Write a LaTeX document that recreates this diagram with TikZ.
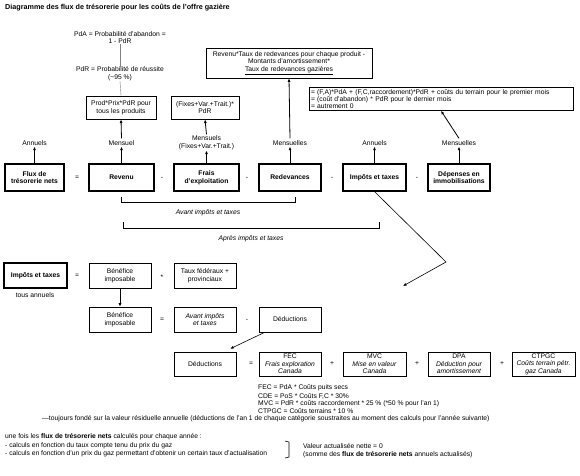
\documentclass[tikz,border=0pt]{standalone}
\usepackage{fontspec}
\setmainfont{Liberation Sans}
\usetikzlibrary{arrows.meta}
\begin{document}
\begin{tikzpicture}[x=1pt,y=-1pt,
  every node/.style={font=\fontsize{6.75}{7.6}\selectfont, inner sep=0pt, align=center},
  bbox/.style={draw, line width=1.1pt, minimum height=27, minimum width=#1, font=\fontsize{6.75}{7.8}\selectfont\bfseries},
  tbox/.style={draw, line width=0.6pt, minimum height=25, minimum width=#1},
  sbox/.style={draw, line width=0.6pt, minimum height=24, minimum width=#1},
  arr/.style={-{Latex[length=3.5pt,width=3pt]}, line width=0.8pt},
  thin/.style={line width=0.4pt, gray},
  op/.style={font=\fontsize{6.75}{7.6}\selectfont},
  txt/.style={anchor=west, align=left}
]
\useasboundingbox (0,0) rectangle (580,475);

% title
\node[txt, font=\fontsize{7.2}{8.5}\selectfont\bfseries] (title) at (5,8) {Diagramme des flux de trésorerie pour les coûts de l'offre gazière};

% probabilities
\node (pda) at (120,37.5) {PdA = Probabilité d'abandon =\\1 - PdR};
\node (pdr) at (120,74) {PdR = Probabilité de réussite\\(\textasciitilde95 \%)};

% upper formula boxes
\node[draw, line width=0.9pt, minimum width=70, minimum height=23] (prod) at (121,107.5) {Prod*Prix*PdR pour\\tous les produits};
\node[draw, line width=0.9pt, minimum width=68, minimum height=23] (fraisf) at (205,107.5) {(Fixes+Var.+Trait.)*\\PdR};
\node[draw, line width=0.6pt, minimum width=166, minimum height=30] (redf) at (289,63) {Revenu*Taux de redevances pour chaque produit -\\Montants d'amortissement*\\\underline{Taux de redevances gazières}};
\node[draw, line width=0.6pt, text width=260, inner sep=2pt, align=left, font=\fontsize{6.75}{7}\selectfont] (depf) at (441,99) {= (F,A)*PdA + (F,C,raccordement)*PdR + coûts du terrain pour le premier mois\\= (coût d'abandon) * PdR pour le dernier mois\\= autrement 0};

\draw[thin] (pda.south) -- (pdr.north);
\draw[thin] (pdr.south) -- (prod.north);

% first row
\node[bbox=59] (flux) at (34.5,177.5) {Flux de\\trésorerie nets};
\node[op] (o1) at (77,178) {=};
\node[bbox=65] (rev) at (121.5,177.5) {Revenu};
\node[op] (o2) at (162,178) {-};
\node[bbox=65] (frais) at (206.5,177.5) {Frais\\d'exploitation};
\node[op] (o3) at (247,178) {-};
\node[bbox=62] (red) at (290,177.5) {Redevances};
\node[op] (o4) at (332,178) {-};
\node[bbox=63] (imp) at (374.5,177.5) {Impôts et taxes};
\node[op] (o5) at (417,178) {-};
\node[bbox=62] (dep) at (459,177.5) {Dépenses en\\immobilisations};

% labels above
\node (l1) at (34.5,143) {Annuels};
\node (l2) at (121.5,143) {Mensuel};
\node (l3) at (206.5,142.5) {Mensuels\\(Fixes+Var.+Trait.)};
\node (l4) at (290,143) {Mensuelles};
\node (l5) at (374.5,143) {Annuels};
\node (l6) at (459,143) {Mensuelles};

\draw[arr] (flux.north) -- ([yshift=-1pt]l1.south);
\draw[arr] (rev.north) -- ([yshift=-1pt]l2.south);
\draw[arr] (frais.north) -- ([yshift=-1pt]l3.south);
\draw[arr] (red.north) -- ([yshift=-1pt]l4.south);
\draw[arr] (imp.north) -- ([yshift=-1pt]l5.south);
\draw[arr] (dep.north) -- ([yshift=-1pt]l6.south);

\draw[arr] ([yshift=2pt]l2.north) -- (prod.south);
\draw[arr] ([yshift=1pt]l3.north) -- (fraisf.south);
\draw[arr] ([yshift=2pt]l4.north) -- (redf.south);
\draw[arr] ([yshift=2pt]l6.north) -- (depf.south);

% brackets
\draw[line width=0.8pt] (121,197) -- (121,202) -- (295,202) -- (295,197);
\node[font=\fontsize{6.75}{7.6}\selectfont\itshape] (avant) at (208,213) {Avant impôts et taxes};
\draw[line width=0.8pt] (123,222) -- (123,228) -- (379,228) -- (379,222);
\node[font=\fontsize{6.75}{7.6}\selectfont\itshape] (apres) at (251,239) {Après impôts et taxes};

% diagonal connector
\coordinate (bend) at (446,262);
\coordinate (tgt) at (403,286);
\draw[arr, line width=0.6pt] (imp.south) -- (bend) -- (tgt);

% second section
\node[bbox=63, minimum height=25] (imp2) at (35.5,275.5) {Impôts et taxes};
\node (tous) at (35,295) {tous annuels};
\node[op] (p1) at (77,276) {=};
\node[tbox=62] (ben1) at (120,276) {Bénéfice\\imposable};
\node[op] (p2) at (162,277) {*};
\node[tbox=62] (taux) at (205,276) {Taux fédéraux +\\provinciaux};
\node[tbox=62] (ben2) at (120,319.5) {Bénéfice\\imposable};
\node[op] (p3) at (162,320) {=};
\node[tbox=62, font=\fontsize{6.75}{7.6}\selectfont\itshape] (avbox) at (205,319.5) {Avant impôts\\et taxes};
\node[op] (p4) at (247,320) {-};
\node[tbox=62] (ded) at (290,319.5) {Déductions};
\draw[arr] (ben1.south) -- (ben2.north);

% third row
\node[sbox=62] (ded3) at (205,364) {Déductions};
\node[op] (q1) at (251,364) {=};
\node[sbox=62] (fec) at (290,364) {FEC\\\textit{Frais exploration}\\\textit{Canada}};
\node[op] (q2) at (332,364) {+};
\node[sbox=63] (mvc) at (374.5,364) {MVC\\\textit{Mise en valeur}\\\textit{Canada}};
\node[op] (q3) at (417,364) {+};
\node[sbox=62] (dpa) at (459,364) {DPA\\\textit{Déduction pour}\\\textit{amortissement}};
\node[op] (q4) at (502,364) {+};
\node[sbox=63] (ctpgc) at (543.5,364) {CTPGC\\\textit{Coûts terrain pétr.}\\\textit{gaz Canada}};
\draw[arr, line width=0.6pt] ([xshift=6pt]ded.south west) -- ([xshift=-6pt,yshift=3pt]ded3.north east);

% formulas
\node[txt] (f1) at (258,388) {FEC = PdA * Coûts puits secs};
\node[txt] (f2) at (258,396) {CDE = PoS * Coûts F,C * 30\%};
\node[txt] (f3) at (258,403.5) {MVC = PdR * coûts raccordement * 25 \% (*50 \% pour l'an 1)};
\node[txt] (f4) at (258,411) {CTPGC = Coûts terrains * 10 \%};
\node[txt] (f5) at (42,418.5) {---toujours fondé sur la valeur résiduelle annuelle (déductions de l'an 1 de chaque catégorie soustraites au moment des calculs pour l'année suivante)};

% bottom
\node[txt] (b1) at (5,437) {une fois les \textbf{flux de trésorerie nets} calculés pour chaque année :};
\node[txt] (b2) at (5,445.5) {- calculs en fonction du taux compte tenu du prix du gaz};
\node[txt] (b3) at (5,454) {- calculs en fonction d'un prix du gaz permettant d'obtenir un certain taux d'actualisation};
\draw[line width=0.6pt] (285,441) -- (289,442) -- (289,457) -- (285,458);
\node[txt] (v1) at (303,446) {Valeur actualisée nette = 0};
\node[txt] (v2) at (303,454.5) {(somme des \textbf{flux de trésorerie nets} annuels actualisés)};
\end{tikzpicture}
\end{document}
